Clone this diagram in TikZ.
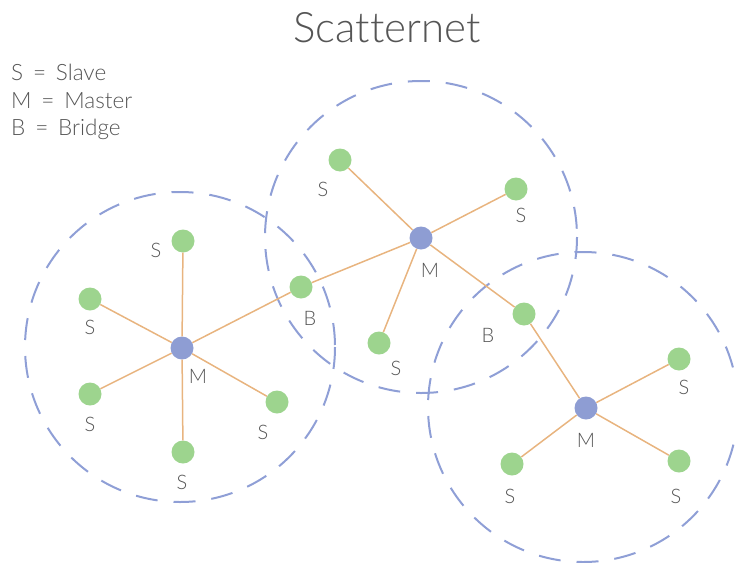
\documentclass[tikz,border=0pt]{standalone}
\usepackage{fontspec}
\setmainfont{Lato}[UprightFont=* Light, Ligatures=NoCommon]
\definecolor{ringblue}{HTML}{8F9FD6}
\definecolor{masterblue}{HTML}{8E9DD3}
\definecolor{slavegreen}{HTML}{9DD48E}
\definecolor{linkorange}{HTML}{E8B47F}
\definecolor{txtgray}{HTML}{555555}
\tikzset{
  ring/.style={draw=ringblue, line width=2pt, dash pattern=on 22pt off 16pt},
  slave/.style={circle, fill=slavegreen, minimum size=23pt, inner sep=0pt},
  master/.style={circle, fill=masterblue, minimum size=23pt, inner sep=0pt},
  link/.style={draw=linkorange, line width=1.5pt},
  lbl/.style={text=txtgray, font=\fontsize{20}{20}\selectfont, inner sep=0pt},
}
\begin{document}
\begin{tikzpicture}[x=1pt, y=-1pt]
\useasboundingbox (0,0) rectangle (735,562);

% title and legend
\node[text=txtgray, font=\fontsize{42}{42}\selectfont, inner sep=0pt] (title) at (387,28) {Scatternet};
\node[text=txtgray, font=\fontsize{22.5}{27.5}\selectfont, inner sep=0pt, anchor=north west, align=left] (legend) at (11,64)
  {S\, =\, Slave\\M\, =\, Master\\B\, =\, Bridge};

% piconet ranges
\draw[ring] (180,347) circle (155);
\draw[ring] (421,237) circle (156);
\draw[ring] (583,407) circle (155);

% nodes
\node[master] (m1) at (182,348) {};
\node[master] (m2) at (421,238) {};
\node[master] (m3) at (586,408) {};
\node[slave] (b1) at (301,287) {};
\node[slave] (b2) at (524,314) {};

\node[slave] (s1a) at (183,241) {};
\node[slave] (s1b) at (90,299) {};
\node[slave] (s1c) at (90,394) {};
\node[slave] (s1d) at (183,452) {};
\node[slave] (s1e) at (277,402) {};

\node[slave] (s2a) at (340,160) {};
\node[slave] (s2b) at (516,189) {};
\node[slave] (s2c) at (379,343) {};

\node[slave] (s3a) at (679,359) {};
\node[slave] (s3b) at (679,461) {};
\node[slave] (s3c) at (512,464) {};

% links
\foreach \s in {s1a,s1b,s1c,s1d,s1e,b1} \path[link] (m1) -- (\s);
\foreach \s in {s2a,s2b,s2c,b1,b2} \path[link] (m2) -- (\s);
\foreach \s in {s3a,s3b,s3c,b2} \path[link] (m3) -- (\s);

% labels
\node[lbl] (l1m) at (198,376) {M};
\node[lbl] (l1a) at (156,250) {S};
\node[lbl] (l1b) at (90,327) {S};
\node[lbl] (l1c) at (90,424) {S};
\node[lbl] (l1d) at (182,482) {S};
\node[lbl] (l1e) at (263,432) {S};
\node[lbl] (lb1) at (310,318) {B};

\node[lbl] (l2m) at (430,270) {M};
\node[lbl] (l2a) at (323,189) {S};
\node[lbl] (l2b) at (521,215) {S};
\node[lbl] (l2c) at (396,368) {S};
\node[lbl] (lb2) at (488,335) {B};

\node[lbl] (l3m) at (586,440) {M};
\node[lbl] (l3a) at (684,387) {S};
\node[lbl] (l3b) at (676,496) {S};
\node[lbl] (l3c) at (510,496) {S};
\end{tikzpicture}
\end{document}
